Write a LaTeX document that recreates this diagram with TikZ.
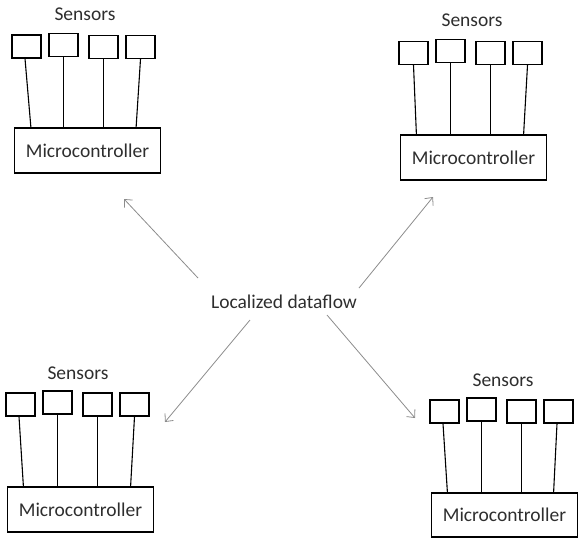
\documentclass[tikz,border=0pt]{standalone}
\usepackage{fontspec}
\setmainfont{Carlito}
\usetikzlibrary{arrows.meta}
\definecolor{inkgray}{HTML}{2E2E2E}
\definecolor{flowgray}{HTML}{8C8C8C}
\tikzset{
  sensorbox/.style={draw=black, line width=1.2pt, minimum width=29pt, minimum height=23pt, inner sep=0pt},
  mcbox/.style={draw=black, line width=1.2pt, minimum width=146pt, minimum height=45pt, inner sep=0pt,
    font=\fontsize{19.5}{22}\selectfont, text=inkgray},
  label/.style={font=\fontsize{19.5}{22}\selectfont, text=inkgray, inner sep=0pt},
  wire/.style={draw=black, line width=1.1pt},
  flow/.style={draw=flowgray, line width=0.8pt, -{Straight Barb[length=6pt,width=11pt]}}
}
\begin{document}
\begin{tikzpicture}[x=1pt,y=-1pt]
\useasboundingbox (0,0) rectangle (580,542);

% upper left unit
\node[label] (tl-lab) at (85,14) {Sensors};
\node[sensorbox] (tl-s1) at (26.5,46.5) {};
\node[sensorbox] (tl-s2) at (63.5,45) {};
\node[sensorbox] (tl-s3) at (103.5,47) {};
\node[sensorbox] (tl-s4) at (140.5,47) {};
\node[mcbox] (tl-mc) at (87.5,150.5) {Microcontroller};
\draw[wire] ([xshift=-1.5pt]tl-s1.south) -- ([xshift=17pt]tl-mc.north west);
\draw[wire] (tl-s2.south) -- (tl-s2.south |- tl-mc.north);
\draw[wire] (tl-s3.south) -- (tl-s3.south |- tl-mc.north);
\draw[wire] (tl-s4.south) -- ([xshift=-25pt]tl-mc.north east);

% upper right unit
\node[label] (tr-lab) at (472,20) {Sensors};
\node[sensorbox] (tr-s1) at (413.5,53) {};
\node[sensorbox] (tr-s2) at (450.5,51) {};
\node[sensorbox] (tr-s3) at (490.5,53) {};
\node[sensorbox] (tr-s4) at (527.5,53) {};
\node[mcbox] (tr-mc) at (473.5,157.5) {Microcontroller};
\draw[wire] (tr-s1.south) -- ([xshift=16.5pt]tr-mc.north west);
\draw[wire] (tr-s2.south) -- (tr-s2.south |- tr-mc.north);
\draw[wire] (tr-s3.south) -- (tr-s3.south |- tr-mc.north);
\draw[wire] (tr-s4.south) -- ([xshift=-23.5pt]tr-mc.north east);

% lower left unit
\node[label] (bl-lab) at (78,373) {Sensors};
\node[sensorbox] (bl-s1) at (20.5,404.5) {};
\node[sensorbox] (bl-s2) at (57.5,402.5) {};
\node[sensorbox] (bl-s3) at (97.5,404.5) {};
\node[sensorbox] (bl-s4) at (134.5,404.5) {};
\node[mcbox] (bl-mc) at (80.5,509.5) {Microcontroller};
\draw[wire] ([xshift=-1.5pt]bl-s1.south) -- ([xshift=16.5pt]bl-mc.north west);
\draw[wire] (bl-s2.south) -- (bl-s2.south |- bl-mc.north);
\draw[wire] (bl-s3.south) -- (bl-s3.south |- bl-mc.north);
\draw[wire] (bl-s4.south) -- ([xshift=-23.5pt]bl-mc.north east);

% lower right unit
\node[label] (br-lab) at (503,380) {Sensors};
\node[sensorbox] (br-s1) at (444.5,411.5) {};
\node[sensorbox] (br-s2) at (481.5,409.5) {};
\node[sensorbox] (br-s3) at (521.5,411.5) {};
\node[sensorbox] (br-s4) at (558.5,411.5) {};
\node[mcbox, minimum height=44pt] (br-mc) at (504.5,515) {Microcontroller};
\draw[wire] ([xshift=-1.5pt]br-s1.south) -- ([xshift=16.5pt]br-mc.north west);
\draw[wire] (br-s2.south) -- (br-s2.south |- br-mc.north);
\draw[wire] (br-s3.south) -- (br-s3.south |- br-mc.north);
\draw[wire] ([xshift=-1.5pt]br-s4.south) -- ([xshift=-24.5pt]br-mc.north east);

% central dataflow label and its four arrows
\node[label] (flow) at (284,302) {Localized dataflow};
\coordinate (f-tl) at (198,278);
\coordinate (f-tr) at (359,288);
\coordinate (f-bl) at (250,320);
\coordinate (f-br) at (327,315);
\coordinate (t-tl) at (124,199);
\coordinate (t-tr) at (433,197);
\coordinate (t-bl) at (165,422);
\coordinate (t-br) at (415,418);
\draw[flow] (f-tl) -- (t-tl);
\draw[flow] (f-tr) -- (t-tr);
\draw[flow] (f-bl) -- (t-bl);
\draw[flow] (f-br) -- (t-br);
\end{tikzpicture}
\end{document}
